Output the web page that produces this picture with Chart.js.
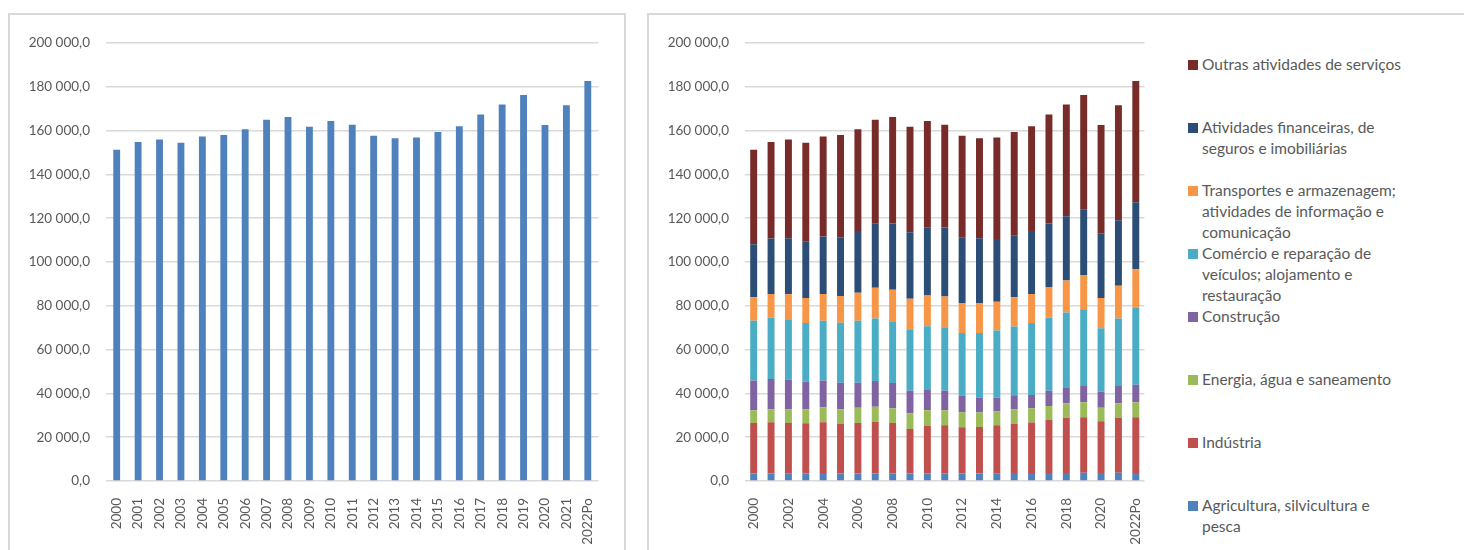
<!DOCTYPE html>
<html>
<head>
<meta charset="utf-8">
<script src="https://cdn.jsdelivr.net/npm/chart.js@4"></script>
<style>
  body { margin: 0; background: #fff; width: 1464px; height: 550px; overflow: hidden; position: relative; font-family: Lato, sans-serif; }
  .panel { position: absolute; border: 2px solid #d9d9d9; box-sizing: border-box; }
  canvas { position: absolute; }
  #legend { position: absolute; left: 0; top: 0; }
  .item { position: absolute; left: 1188px; width: 240px; font-size: 15.5px; line-height: 21px; color: #595959; }
  .item .box { position: absolute; left: 0; top: 6px; width: 10px; height: 10px; }
  .item .txt { margin-left: 14px; width: 205px; }
</style>
</head>
<body>
<div class="panel" style="left:8px; top:13px; width:618px; height:600px;"></div>
<div class="panel" style="left:647px; top:13px; width:900px; height:600px;"></div>
<canvas id="chartTotal" width="613" height="550" style="left:0; top:0;"></canvas>
<canvas id="chartSetores" width="521" height="550" style="left:640px; top:0;"></canvas>
<div id="legend"></div>
<script>
// anos
var anos = ['2000','2001','2002','2003','2004','2005','2006','2007','2008','2009','2010','2011',
            '2012','2013','2014','2015','2016','2017','2018','2019','2020','2021','2022Po'];

// total (grafico da esquerda)
var total = [151300,154800,155900,154500,157300,158000,160600,165000,166200,161800,164400,162700,
             157600,156500,156900,159400,162000,167300,171900,176300,162600,171600,182700];

// por setor (grafico da direita, de baixo para cima)
var agricultura = [3400,3400,3500,3400,3600,3400,3400,3400,3400,3400,3400,3400,3400,3400,3500,3600,3600,3600,3600,3800,3600,3800,3700];
var industria   = [23100,23400,23000,23000,23200,22700,23100,23600,23100,20400,21700,22100,21200,21300,22000,22500,23100,24300,25200,25300,23700,25000,25400];
var energia     = [5800,6000,6300,6400,6900,6700,6900,6900,6700,7100,7200,6800,6800,6600,6400,6700,6500,6400,6700,6900,6200,6700,6900];
var construcao  = [13600,13800,13400,12500,12200,12100,11500,11800,11500,10300,9300,8900,7500,6800,6100,6400,6100,6900,7000,7400,7200,7900,7900];
var comercio    = [27300,28000,27700,26800,27300,27400,28300,28500,28200,28100,29100,29000,28700,29500,30700,31300,32800,33300,34400,35000,29000,30800,35300];
var transportes = [10700,10800,11400,11500,12200,12200,12800,14000,14400,13900,14000,14000,13700,13700,13200,13400,13300,14100,14600,15700,13900,15000,17500];
var financeiras = [24200,25300,25500,25900,26200,26800,28100,29300,30300,30400,31200,31600,30000,29500,28600,28300,28700,29000,29400,29800,29500,29900,30600];
var outras      = [43200,44100,45100,45000,45700,46700,46500,47500,48600,48200,48500,46900,46300,45700,46400,47200,47900,49700,51000,52400,49500,52500,55400];

var setores = ['Agricultura, silvicultura e pesca', 'Indústria', 'Energia, água e saneamento', 'Construção',
               'Comércio e reparação de veículos; alojamento e restauração',
               'Transportes e armazenagem; atividades de informação e comunicação',
               'Atividades financeiras, de seguros e imobiliárias', 'Outras atividades de serviços'];
var cores = ['#4F81BD','#C0504D','#9BBB59','#8064A2','#4BACC6','#F79646','#2C4D75','#772C2A'];

var textColor = '#595959';
var gridColor = '#d9d9d9';

function fmt(v)
{
    var s = Math.round(v).toString().replace(/\B(?=(\d{3})+(?!\d))/g, ' ');
    return s + ',0';
}

function makeScales(yWidth, showEvery)
{
    return {
        x: {
            stacked: true,
            grid: { display: false },
            border: { display: false },
            ticks: {
                color: textColor,
                font: { family: 'Lato', size: 13.5 },
                autoSkip: false,
                minRotation: 90,
                maxRotation: 90,
                padding: 9,
                callback: function(val, i) { return i % showEvery === 0 ? anos[i] : ''; }
            },
            afterFit: function(s) { s.height = 69; }
        },
        y: {
            stacked: true,
            min: 0,
            max: 200000,
            grid: { color: gridColor, lineWidth: 1.5, drawTicks: false },
            border: { display: false },
            ticks: {
                stepSize: 20000,
                color: textColor,
                font: { family: 'Lato', size: 13.5 },
                padding: 16,
                callback: function(v) { return fmt(v); }
            },
            afterFit: function(s) { s.width = yWidth; }
        }
    };
}

const chartTotal = new Chart(document.getElementById('chartTotal'), {
    type: 'bar',
    data: {
        labels: anos,
        datasets: [{
            label: 'Total',
            data: total,
            backgroundColor: '#4F81BD',
            categoryPercentage: 1,
            barPercentage: 0.32
        }]
    },
    options: {
        responsive: false,
        animation: false,
        layout: { padding: { top: 43, right: 0, left: 0, bottom: 0 } },
        plugins: { legend: { display: false }, tooltip: { enabled: false } },
        scales: makeScales(106, 1)
    }
});

var seriesSetores = [agricultura, industria, energia, construcao, comercio, transportes, financeiras, outras];

const chartSetores = new Chart(document.getElementById('chartSetores'), {
    type: 'bar',
    data: {
        labels: anos,
        datasets: seriesSetores.map(function(d, i) {
            return {
                label: setores[i],
                data: d,
                backgroundColor: cores[i],
                categoryPercentage: 1,
                barPercentage: 0.4
            };
        })
    },
    options: {
        responsive: false,
        animation: false,
        layout: { padding: { top: 43, right: 0, left: 0, bottom: 0 } },
        plugins: { legend: { display: false }, tooltip: { enabled: false } },
        scales: makeScales(105, 2)
    }
});

// legenda em html, ordem inversa (Outras no topo)
var legend = document.getElementById('legend');
chartSetores.data.datasets.slice().reverse().forEach(function(ds, i) {
    var div = document.createElement('div');
    div.className = 'item';
    div.style.top = (54 + 63 * i) + 'px';
    div.innerHTML = '<div class="box" style="background:' + ds.backgroundColor + '"></div><div class="txt">' + ds.label + '</div>';
    legend.appendChild(div);
});
</script>
</body>
</html>
